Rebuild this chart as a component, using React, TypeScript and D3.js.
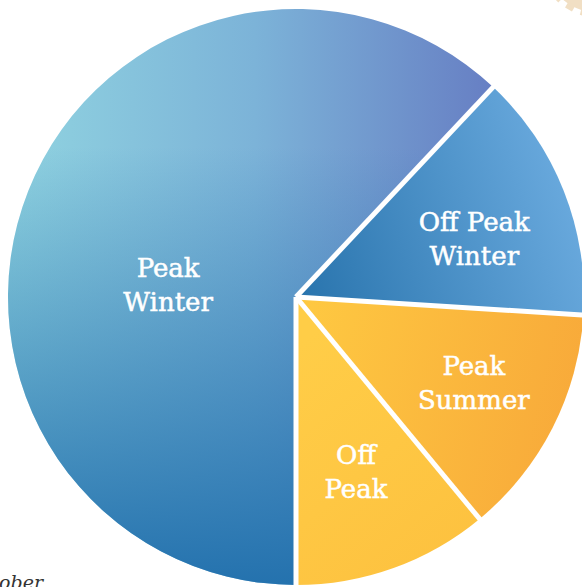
import React from "react";
import * as d3 from "d3";

const categories = ["Peak Winter", "Off Peak Winter", "Peak Summer", "Off Peak"];
const values = [62, 14, 13, 11];
const labelLines = [["Peak", "Winter"], ["Off Peak", "Winter"], ["Peak", "Summer"], ["Off", "Peak"]];
const gradientIds = ["gPW", "gOPW", "gPS", "gOP"];

const W = 582, H = 587;
const cx = 296, cy = 297, R = 288;
// label placement: [angle shift in degrees, radius fraction, forced angle or null]
const labelLayout: [number, number, number | null][] = [
  [0, 0.446, 275.4],
  [3.3, 0.652, null],
  [-1.2, 0.686, null],
  [0.8, 0.64, null],
];

export default function App() {
  const pie = d3.pie<number>().sort(null).startAngle(Math.PI).endAngle(3 * Math.PI);
  const arcs = pie(values);
  const arcGen = d3.arc<d3.PieArcDatum<number>>().innerRadius(0).outerRadius(R);

  const gear = d3.range(0, 24).map((i) => i * (Math.PI * 2) / 24);

  return (
    <svg width={W} height={H} style={{ position: "absolute", left: 0, top: 0 }}>
      <defs>
        <linearGradient id="gPW" gradientUnits="userSpaceOnUse" x1={-286} y1={0} x2={204} y2={0}>
          <stop offset="0" stopColor="#90d3e0" />
          <stop offset="0.5" stopColor="#7cb3d8" />
          <stop offset="1" stopColor="#667dc3" />
        </linearGradient>
        <linearGradient id="gPWov" gradientUnits="userSpaceOnUse" x1={0} y1={-150} x2={0} y2={288}>
          <stop offset="0" stopColor="#2472ae" stopOpacity="0" />
          <stop offset="1" stopColor="#2472ae" stopOpacity="1" />
        </linearGradient>
        <linearGradient id="gOPW" gradientUnits="userSpaceOnUse" x1={10} y1={0} x2={286} y2={-90}>
          <stop offset="0" stopColor="#2a75ae" />
          <stop offset="1" stopColor="#6aaade" />
        </linearGradient>
        <linearGradient id="gPS" gradientUnits="userSpaceOnUse" x1={10} y1={20} x2={286} y2={80}>
          <stop offset="0" stopColor="#fec841" />
          <stop offset="1" stopColor="#f8aa3a" />
        </linearGradient>
        <linearGradient id="gOP" gradientUnits="userSpaceOnUse" x1={0} y1={50} x2={180} y2={260}>
          <stop offset="0" stopColor="#ffcd47" />
          <stop offset="1" stopColor="#fdc13f" />
        </linearGradient>
      </defs>

      <g transform="translate(600,-45)">
        <circle r={52} fill="none" stroke="#f1dfc4" strokeWidth={12} />
        {gear.map((a, i) => (
          <rect key={i} x={-4} y={56} width={8} height={7} fill="#f1dfc4" transform={`rotate(${(a * 180) / Math.PI})`} />
        ))}
      </g>

      <g transform={`translate(${cx},${cy})`}>
        {arcs.map((a, i) => (
          <g key={categories[i]}>
            <path d={arcGen(a) || ""} fill={`url(#${gradientIds[i]})`} />
            {i === 0 && <path d={arcGen(a) || ""} fill="url(#gPWov)" />}
          </g>
        ))}
        {arcs.map((a, i) => (
          <line key={"s" + i} x1={0} y1={0}
            x2={Math.sin(a.startAngle) * (R + 2)} y2={-Math.cos(a.startAngle) * (R + 2)}
            stroke="#ffffff" strokeWidth={5} strokeLinecap="butt" />
        ))}
        {arcs.map((a, i) => {
          const [shift, rf, forced] = labelLayout[i];
          const angDeg = forced !== null ? forced : ((a.startAngle + a.endAngle) / 2) * 180 / Math.PI + shift;
          const ang = (angDeg * Math.PI) / 180;
          const x = Math.sin(ang) * R * rf;
          const y = -Math.cos(ang) * R * rf;
          const lines = labelLines[i];
          return (
            <text key={"t" + i} x={x} y={y} textAnchor="middle" fill="#ffffff"
              stroke="#ffffff" strokeWidth={0.5}
              fontFamily="'DejaVu Serif', serif" fontSize={26}>
              {lines.map((l, j) => (
                <tspan key={j} x={x} dy={j === 0 ? -7.5 : 34}>{l}</tspan>
              ))}
            </text>
          );
        })}
      </g>

      <text x={43} y={589} textAnchor="end" fontFamily="'DejaVu Serif', serif" fontStyle="italic" fontSize={19} fill="#333333">October</text>
    </svg>
  );
}
